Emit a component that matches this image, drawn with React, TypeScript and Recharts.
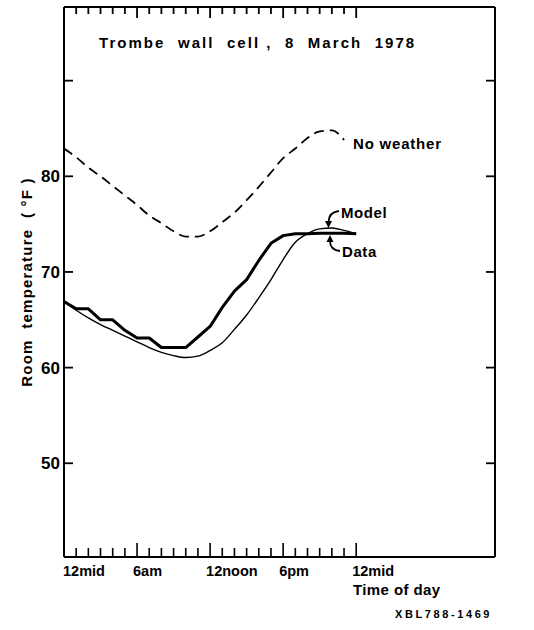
import React from 'react';
import { LineChart, Line, XAxis, YAxis, ReferenceLine } from 'recharts';

// Hours after midnight (8 March 1978)
const hours = [0, 1, 2, 3, 4, 5, 6, 7, 8, 9, 10, 11, 12, 13, 14, 15, 16, 17, 18, 19, 20, 21, 22, 23, 24];
// Measured room temperature (°F)
const dataTemp = [66.9, 66.15, 66.15, 65.0, 65.0, 63.9, 63.1, 63.1, 62.1, 62.1, 62.1, 63.2, 64.3, 66.3, 68.0, 69.2, 71.2, 73.0, 73.8, 74.0, 74.0, 74.05, 74.05, 74.05, 74.0];
// Model prediction (°F)
const modelTemp = [66.9, 66.0, 65.2, 64.5, 63.9, 63.3, 62.7, 62.1, 61.6, 61.25, 61.05, 61.2, 61.8, 62.6, 64.0, 65.5, 67.3, 69.2, 71.3, 73.1, 74.0, 74.5, 74.6, 74.35, 74.0];
// Model without weather (°F)
const noWeather = [82.9, 82.0, 80.9, 80.0, 79.0, 78.0, 77.0, 75.9, 75.1, 74.25, 73.7, 73.7, 74.25, 75.2, 76.2, 77.5, 78.9, 80.4, 81.9, 82.9, 84.0, 84.7, 84.8, 83.8, null];

const xTicks = hours;
const xLabels = ['12mid', '6am', '12noon', '6pm', '12mid'];
const yTicks = [50, 60, 70, 80, 90];
const yLabelMax = 80;
const xDomain: [number, number] = [0, 35.4];
const yDomain: [number, number] = [40.2, 97.7];

const CHART_W = 534;
const CHART_H = 630;
const MARGIN = { top: 7, right: 38, bottom: 72, left: 63 };
const X_AXIS_H = 1;
const Y_AXIS_W = 1;
const PLOT_LEFT = MARGIN.left + Y_AXIS_W;
const PLOT_W = CHART_W - MARGIN.left - MARGIN.right - 2 * Y_AXIS_W;
const PLOT_TOP = MARGIN.top;

const rows = hours.map((h, i) => ({
  hour: h,
  data: dataTemp[i],
  model: modelTemp[i],
  noWeather: noWeather[i],
}));

const FONT = '"Liberation Sans", Arial, sans-serif';

const BottomTick = (props: any) => {
  const { x, y, payload } = props;
  const h = Number(payload.value);
  const major = h % 6 === 0;
  return (
    <g>
      <line x1={x} x2={x} y1={y} y2={y - (major ? 14 : 9)} stroke="#000" strokeWidth={1.6} />
      {major && (
        <text x={h === 0 ? x - 1 : x - 4} y={y + 19} textAnchor="start" fontFamily={FONT} fontWeight="bold" fontSize={14.5} fill="#000">
          {xLabels[h / 6]}
        </text>
      )}
    </g>
  );
};

const LeftTick = (props: any) => {
  const { x, y, payload } = props;
  const v = Number(payload.value);
  return (
    <g>
      <line x1={x} x2={x + 9} y1={y} y2={y} stroke="#000" strokeWidth={1.8} />
      {v <= yLabelMax && (
        <text x={x - 4} y={y + 6} textAnchor="end" fontFamily={FONT} fontWeight="bold" fontSize={17} fill="#000">
          {v}
        </text>
      )}
    </g>
  );
};

const RightTick = (props: any) => {
  const { x, y } = props;
  return <line x1={x} x2={x - 9} y1={y} y2={y} stroke="#000" strokeWidth={1.8} />;
};

const axisLine = { stroke: '#000', strokeWidth: 2 };

// Top-edge tick positions follow the same linear hour scale as the bottom axis
const topTickX = (h: number) => PLOT_LEFT + ((h - xDomain[0]) / (xDomain[1] - xDomain[0])) * PLOT_W;

export default function App() {
  return (
    <div style={{ position: 'absolute', left: 0, top: 0, width: CHART_W, height: CHART_H, background: '#fff' }}>
      <LineChart width={CHART_W} height={CHART_H} data={rows} margin={MARGIN}>
        <XAxis
          xAxisId="b"
          dataKey="hour"
          type="number"
          domain={xDomain}
          ticks={xTicks}
          interval={0}
          height={X_AXIS_H}
          tickSize={0}
          tickMargin={0}
          tickLine={false}
          axisLine={axisLine}
          tick={<BottomTick />}
          allowDataOverflow
        />
        <YAxis
          yAxisId="l"
          type="number"
          domain={yDomain}
          ticks={yTicks}
          interval={0}
          width={Y_AXIS_W}
          tickSize={0}
          tickMargin={0}
          tickLine={false}
          axisLine={axisLine}
          tick={<LeftTick />}
          allowDataOverflow
        />
        <YAxis
          yAxisId="r"
          orientation="right"
          type="number"
          domain={yDomain}
          ticks={yTicks}
          interval={0}
          width={Y_AXIS_W}
          tickSize={0}
          tickMargin={0}
          tickLine={false}
          axisLine={axisLine}
          tick={<RightTick />}
          allowDataOverflow
        />
        <ReferenceLine xAxisId="b" yAxisId="l" y={yDomain[1]} ifOverflow="visible" stroke="#000" strokeWidth={2} />
        <Line xAxisId="b" yAxisId="l" dataKey="noWeather" type="monotone" stroke="#000" strokeWidth={1.8} strokeDasharray="10 6" dot={false} isAnimationActive={false} connectNulls={false} />
        <Line xAxisId="b" yAxisId="l" dataKey="model" type="monotone" stroke="#000" strokeWidth={1.4} dot={false} isAnimationActive={false} />
        <Line xAxisId="b" yAxisId="l" dataKey="data" type="linear" stroke="#000" strokeWidth={3} strokeLinejoin="round" dot={false} isAnimationActive={false} />
      </LineChart>
      <svg width={CHART_W} height={CHART_H} style={{ position: 'absolute', left: 0, top: 0, pointerEvents: 'none' }}>
        {xTicks.map((h) => (
          <line
            key={`top${h}`}
            x1={topTickX(h)}
            x2={topTickX(h)}
            y1={PLOT_TOP}
            y2={PLOT_TOP + (h % 6 === 0 ? 11 : 7)}
            stroke="#000"
            strokeWidth={1.8}
          />
        ))}
        <g fontFamily={FONT} fontWeight="bold" fill="#000">
          <text x={99} y={48} fontSize={15} letterSpacing={2.05} style={{ whiteSpace: 'pre' }}>
            {'Trombe  wall  cell ,  8  March  1978'}
          </text>
          <text x={353} y={149} fontSize={15} letterSpacing={0.8}>No weather</text>
          <text x={341} y={218} fontSize={15} letterSpacing={0.6}>Model</text>
          <text x={342} y={257} fontSize={15} letterSpacing={0.6}>Data</text>
          <text
            x={0}
            y={0}
            fontSize={15}
            letterSpacing={1.2}
            textAnchor="middle"
            transform="translate(32 282) rotate(-90)"
            style={{ whiteSpace: 'pre' }}
          >
            {'Room  temperature  ( °F )'}
          </text>
          <text x={353} y={595} fontSize={15} letterSpacing={0.4}>Time of day</text>
          <text x={395} y={618} fontSize={11} letterSpacing={2.6}>XBL788-1469</text>
        </g>
        <path d="M 339 211 Q 329 212 328.5 222" fill="none" stroke="#000" strokeWidth={1.8} />
        <polygon points="325,221 332,221 328.5,228" fill="#000" />
        <path d="M 340 251 Q 330 250 330 241" fill="none" stroke="#000" strokeWidth={1.8} />
        <polygon points="326.5,242 333.5,242 330,235" fill="#000" />
      </svg>
    </div>
  );
}
